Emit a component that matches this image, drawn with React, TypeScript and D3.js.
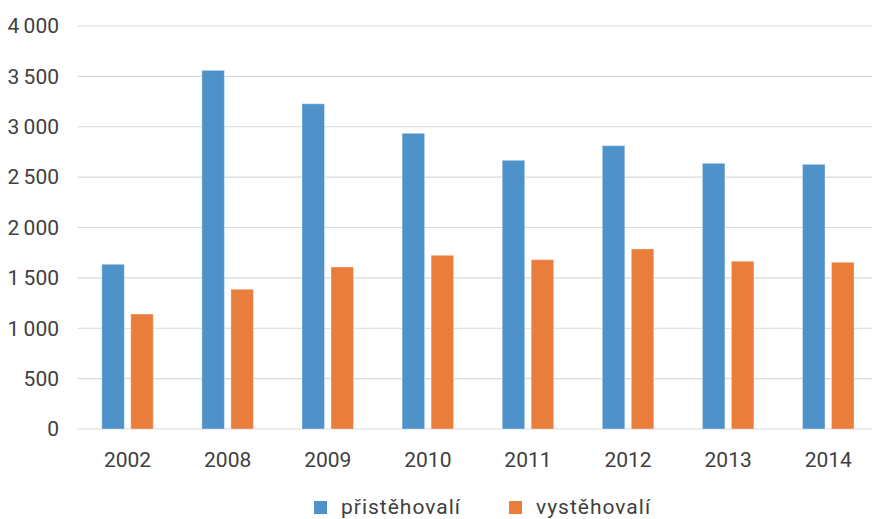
import * as d3 from "d3"

const years = ["2002", "2008", "2009", "2010", "2011", "2012", "2013", "2014"]
const series = ["přistěhovalí", "vystěhovalí"]
const immigrants = [1635, 3560, 3228, 2935, 2667, 2812, 2637, 2627]
const emigrants = [1141, 1387, 1608, 1724, 1681, 1787, 1665, 1655]
const yTicks = [0, 500, 1000, 1500, 2000, 2500, 3000, 3500, 4000]
const colors = ["#4f92ca", "#e97d3c"]

const width = 872
const height = 519

const cz = d3.formatLocale({ decimal: ",", thousands: "\u2009", grouping: [3], currency: ["", ""] })
const fmt = cz.format(",d")

export default function App() {
  // plot area runs a bit past the right edge, as in the source image
  const x = d3
    .scaleBand<string>()
    .domain(years)
    .range([77.5, 878.3])
    .paddingInner(0.4855)
    .paddingOuter(0.24275)

  const xInner = d3
    .scaleBand<string>()
    .domain(series)
    .range([0, x.bandwidth()])
    .paddingInner(0.224)

  const y = d3.scaleLinear().domain([0, 4000]).range([429, 26])

  const values = [immigrants, emigrants]
  const font = "Roboto, 'DejaVu Sans', sans-serif"
  const textColor = "#404040"

  return (
    <svg
      width={width}
      height={height}
      style={{ position: "absolute", left: 0, top: 0, background: "#fff" }}
      fontFamily={font}
    >
      {/* grid + y labels */}
      {yTicks.map((t) => (
        <g key={t}>
          <line x1={77.5} x2={width} y1={y(t)} y2={y(t)} stroke="#d9d9d9" strokeWidth={1.2} />
          <text x={59} y={y(t)} dy="0.35em" textAnchor="end" fontSize={21} fill={textColor}>
            {fmt(t)}
          </text>
        </g>
      ))}

      {/* bars */}
      {series.map((s, si) =>
        years.map((yr, i) => (
          <rect
            key={s + yr}
            x={(x(yr) ?? 0) + (xInner(s) ?? 0)}
            y={y(values[si][i])}
            width={xInner.bandwidth()}
            height={y(0) - y(values[si][i])}
            fill={colors[si]}
            stroke="#ffffff"
            strokeOpacity={0.35}
            strokeWidth={1}
          />
        )),
      )}

      {/* x labels */}
      {years.map((yr) => (
        <text
          key={yr}
          x={(x(yr) ?? 0) + x.bandwidth() / 2}
          y={467}
          textAnchor="middle"
          fontSize={21}
          fill={textColor}
        >
          {yr}
        </text>
      ))}

      {/* legend */}
      {series.map((s, si) => {
        const lx = si === 0 ? 314 : 509
        return (
          <g key={s}>
            <rect x={lx} y={501} width={13} height={13} fill={colors[si]} />
            <text x={lx + 27} y={514} fontSize={21} letterSpacing={1} fill={textColor}>
              {s}
            </text>
          </g>
        )
      })}
    </svg>
  )
}
